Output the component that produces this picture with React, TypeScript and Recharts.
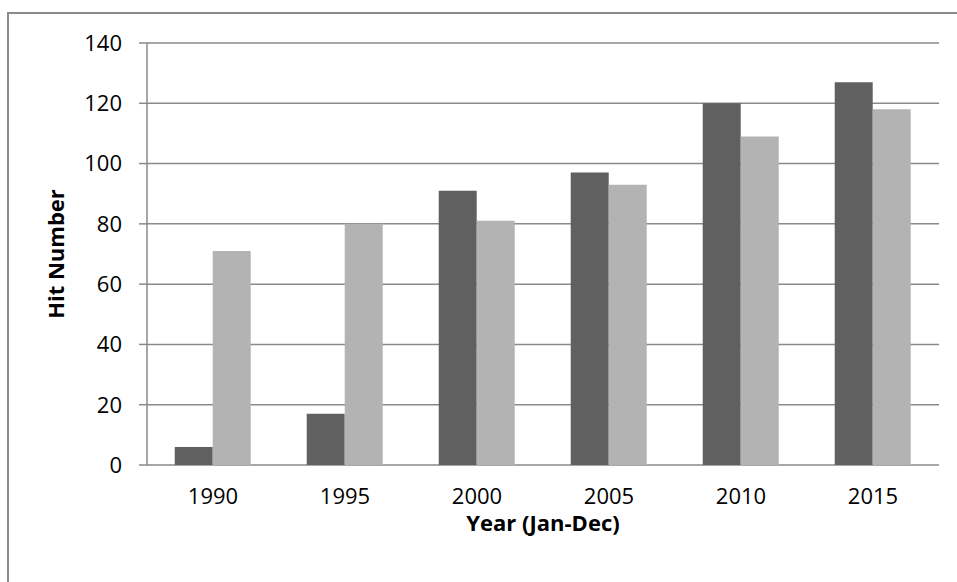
import { Bar, BarChart, CartesianGrid, XAxis, YAxis } from "recharts"

const years = ["1990", "1995", "2000", "2005", "2010", "2015"]
const seriesA = [6, 17, 91, 97, 120, 127]
const seriesB = [71, 80, 81, 93, 109, 118]
const yTicks = [0, 20, 40, 60, 80, 100, 120, 140]
const boundaryTicks = [0, 1, 2, 3, 4, 5, 6]

const data = years.map((year, i) => ({ year, a: seriesA[i], b: seriesB[i] }))

const lineColor = "#8a8a8a"
const font = { fontFamily: "'Open Sans', sans-serif", fontSize: 22, fill: "#000" }

export default function App() {
  return (
    <div style={{ position: "absolute", left: 0, top: 0, width: 957, height: 582, overflow: "hidden", background: "#fff" }}>
      <div
        style={{
          position: "absolute",
          left: 7,
          top: 12,
          width: 1200,
          height: 1200,
          border: `2px solid ${lineColor}`,
        }}
      />
      <BarChart
        width={957}
        height={582}
        data={data}
        margin={{ top: 43, right: 18, left: 0, bottom: 0 }}
        barCategoryGap="21%"
        barGap={0}
        style={{ position: "absolute", left: 0, top: 0 }}
      >
        <CartesianGrid vertical={false} stroke={lineColor} strokeWidth={1.5} />
        <XAxis
          xAxisId="bounds"
          type="number"
          dataKey={() => 0}
          domain={[0, 6]}
          ticks={boundaryTicks}
          height={0}
          axisLine={{ stroke: lineColor, strokeWidth: 1.5 }}
          tickLine={{ stroke: lineColor, strokeWidth: 1.5 }}
          tickSize={8}
          tickFormatter={() => ""}
        />
        <XAxis
          dataKey="year"
          height={117}
          axisLine={false}
          tickLine={false}
          tickMargin={17}
          tick={font}
          label={{
            value: "Year (Jan-Dec)",
            position: "insideBottom",
            offset: 51,
            style: { ...font, fontWeight: 700 },
          }}
        />
        <YAxis
          width={147}
          domain={[0, 140]}
          ticks={yTicks}
          interval={0}
          axisLine={{ stroke: lineColor, strokeWidth: 1.5 }}
          tickLine={{ stroke: lineColor, strokeWidth: 1.5 }}
          tickSize={8}
          tickMargin={17}
          tick={font}
          label={{
            value: "Hit Number",
            angle: -90,
            position: "insideLeft",
            offset: 56,
            style: { ...font, fontWeight: 700, textAnchor: "middle" },
          }}
        />
        <Bar dataKey="a" fill="#606060" isAnimationActive={false} />
        <Bar dataKey="b" fill="#b3b3b3" isAnimationActive={false} />
      </BarChart>
    </div>
  )
}
